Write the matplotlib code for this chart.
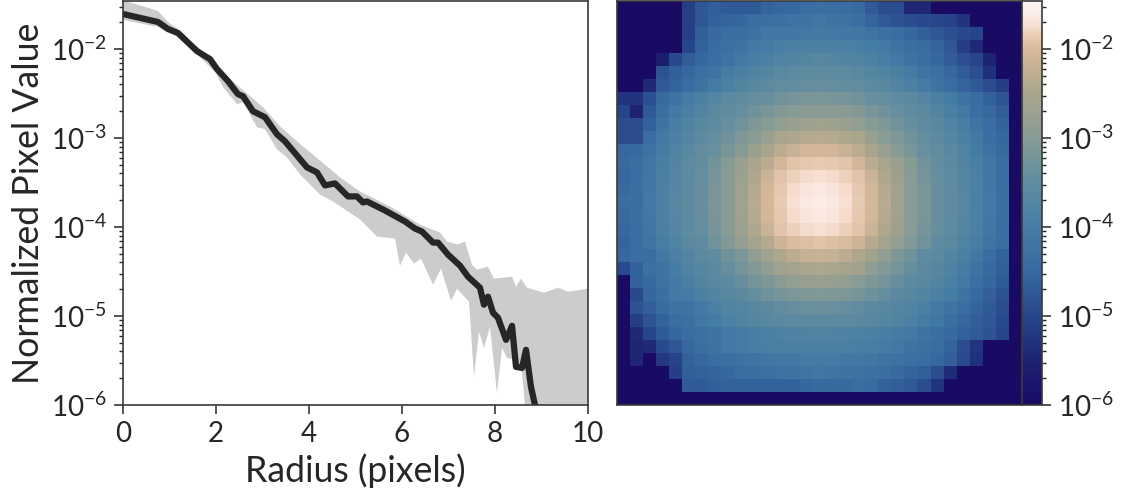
import numpy as np
import matplotlib
matplotlib.use('Agg')
import matplotlib.pyplot as plt
from matplotlib.colors import LinearSegmentedColormap, LogNorm
from matplotlib.ticker import LogLocator, NullFormatter

plt.rcParams['font.family'] = ['Lato', 'DejaVu Sans']
plt.rcParams['mathtext.default'] = 'regular'
plt.rcParams['text.color'] = '#262626'
plt.rcParams['axes.labelcolor'] = '#262626'
plt.rcParams['xtick.color'] = '#262626'
plt.rcParams['ytick.color'] = '#262626'

# mean radial profile, log10 of normalized pixel value
radius = [0, 0.753, 0.968, 1.183, 1.591, 1.871, 2.022, 2.258, 2.473, 2.581, 2.796, 3.054, 3.312, 3.484,
          3.957, 4.172, 4.344, 4.559, 4.839, 5.032, 5.161, 5.247, 5.634, 6.065, 6.28, 6.43, 6.667, 6.774,
          6.989, 7.247, 7.419, 7.677, 7.763, 7.849, 7.957, 8.065, 8.237, 8.366, 8.452, 8.581, 8.667,
          8.774, 8.86, 8.95]
profile = [-1.606, -1.696, -1.775, -1.82, -2.023, -2.113, -2.225, -2.361, -2.507, -2.53, -2.699, -2.766,
           -2.958, -3.037, -3.33, -3.386, -3.532, -3.51, -3.656, -3.656, -3.724, -3.713, -3.814, -3.938,
           -4.017, -4.051, -4.175, -4.175, -4.31, -4.434, -4.558, -4.682, -4.873, -4.783, -4.963, -5.02,
           -5.268, -5.11, -5.572, -5.583, -5.38, -5.797, -6.0, -6.4]

# upper and lower edge of the grey band
radius_up = [0, 0.753, 0.968, 1.183, 1.591, 1.914, 2.258, 2.559, 3.011, 3.376, 3.742, 4.387, 4.667, 5.097,
             5.312, 5.742, 6.387, 6.817, 6.968, 7.204, 7.355, 7.505, 7.613, 7.849, 7.978, 8.366, 8.452,
             8.559, 8.688, 9.054, 9.355, 9.57, 10]
band_up = [-1.45, -1.572, -1.696, -1.775, -1.977, -2.113, -2.315, -2.451, -2.654, -2.868, -3.037, -3.318,
           -3.442, -3.6, -3.656, -3.769, -3.972, -4.062, -4.163, -4.197, -4.163, -4.423, -4.479, -4.445,
           -4.58, -4.558, -4.67, -4.58, -4.682, -4.738, -4.682, -4.727, -4.693]
radius_lo = [0, 0.753, 0.968, 1.183, 1.591, 1.978, 2.151, 2.452, 2.581, 2.882, 3.054, 3.312, 3.527, 3.806,
             4.237, 4.516, 5.097, 5.462, 5.849, 5.957, 6.086, 6.258, 6.409, 6.667, 6.839, 7.054, 7.183,
             7.441, 7.548, 7.656, 7.763, 7.892, 8.043, 8.151, 8.258, 8.43, 8.581, 8.645, 8.65, 10]
band_lo = [-1.673, -1.752, -1.808, -1.865, -2.056, -2.259, -2.428, -2.62, -2.597, -2.879, -2.901, -3.127,
           -3.217, -3.408, -3.634, -3.713, -3.915, -4.107, -4.13, -4.434, -4.287, -4.411, -4.355, -4.648,
           -4.468, -4.828, -4.693, -4.839, -5.685, -5.177, -5.358, -5.121, -5.865, -5.358, -5.47, -5.493,
           -5.639, -6.0, -7.0, -7.0]

# stacked PSF image, -log10(value) * 100, row 0 at the top
psf_rows = [
    [600,600,600,600,600,510,475,465,470,470,470,455,452,450,440,435,440,440,445,470,490,490,545,545,600,600,600,600,600,600,600],
    [600,600,600,600,600,510,475,460,455,450,440,436,430,425,420,415,420,425,435,455,470,480,490,495,500,505,525,600,600,600,600],
    [600,600,600,600,600,510,465,448,440,432,425,415,413,411,410,405,410,411,415,420,430,440,452,465,475,485,495,500,600,600,600],
    [600,600,600,600,600,500,460,442,430,420,410,400,392,389,386,385,386,389,392,400,410,420,432,442,455,475,510,540,600,600,600],
    [600,600,600,560,495,468,452,438,425,410,396,387,378,372,368,365,368,372,378,387,396,410,425,438,452,468,485,500,550,600,600],
    [600,600,600,480,465,452,436,420,402,389,378,368,361,355,353,350,353,355,361,368,378,389,402,420,436,452,468,488,530,600,600],
    [600,600,540,470,455,438,420,400,385,372,361,354,348,345,342,340,342,345,348,354,361,372,385,400,420,438,455,470,490,510,600],
    [525,525,485,445,425,402,385,370,358,350,344,338,328,320,317,315,317,320,328,338,344,350,358,370,385,402,425,442,460,478,600],
    [500,550,470,432,410,389,372,358,349,342,330,317,307,298,296,295,296,298,307,317,330,342,349,358,372,389,410,432,448,468,600],
    [490,490,460,420,396,378,361,350,342,328,310,299,285,272,265,262,265,272,285,299,310,328,342,350,361,378,396,420,440,458,600],
    [490,490,440,410,387,368,354,344,330,310,297,275,252,244,238,236,238,244,252,275,297,310,330,344,354,368,387,410,432,450,600],
    [450,445,425,400,378,361,348,338,317,299,275,252,232,218,208,205,208,218,232,252,275,299,317,338,348,361,378,400,425,445,600],
    [445,440,415,392,372,355,345,325,300,275,252,232,204,192,188,186,188,192,204,232,252,275,300,325,345,355,372,392,415,440,600],
    [450,438,413,389,368,353,342,320,298,270,244,215,192,182,176,172,176,182,192,215,244,270,298,320,342,353,368,389,413,438,600],
    [445,436,411,386,366,351,340,317,296,264,238,205,188,176,166,163,166,176,188,205,238,264,296,317,340,351,366,386,411,436,600],
    [440,435,410,385,365,350,340,315,295,262,236,202,186,172,163,160,163,172,186,202,236,262,295,315,340,350,365,385,410,435,600],
    [445,436,411,386,366,351,340,317,296,264,238,205,188,176,166,163,166,176,188,205,238,264,296,317,340,351,366,386,411,436,600],
    [450,438,413,389,368,353,342,320,298,270,244,215,192,182,176,172,176,182,192,215,244,270,298,320,342,353,368,389,413,438,600],
    [455,440,418,396,378,360,350,330,306,281,258,238,210,198,194,192,194,198,210,238,258,281,306,330,350,360,378,396,418,440,600],
    [450,440,437,412,390,373,360,350,329,311,287,264,244,230,220,217,220,230,244,264,287,311,329,350,360,373,390,412,437,457,600],
    [495,460,430,422,399,380,366,356,342,322,309,287,264,256,250,248,250,256,264,287,309,322,342,356,366,380,399,422,444,462,600],
    [600,460,445,420,408,390,373,362,354,340,322,311,297,284,277,274,277,284,297,311,322,340,354,362,373,390,408,432,452,470,600],
    [600,495,450,432,410,403,386,372,363,356,344,331,321,312,310,309,310,312,321,331,344,356,363,372,386,403,424,446,462,482,600],
    [600,480,465,442,425,422,405,390,378,370,364,358,348,340,337,335,337,340,348,358,364,370,378,390,405,422,440,455,470,490,600],
    [600,510,480,460,440,430,415,400,387,376,369,363,360,357,355,355,355,357,360,363,369,376,387,400,415,435,450,465,475,495,600],
    [600,540,500,470,450,440,430,420,408,400,396,389,383,381,379,378,379,381,383,389,396,400,408,420,435,445,460,470,480,500,600],
    [600,545,540,495,475,450,435,420,410,400,395,392,390,390,390,390,390,390,392,395,400,410,422,430,437,455,490,525,600,600,600],
    [600,545,600,520,505,460,450,440,432,425,420,415,410,408,406,405,406,408,410,415,420,425,432,440,450,465,495,530,600,600,600],
    [600,600,600,600,510,465,460,455,450,440,435,430,425,422,418,415,418,420,425,430,435,445,455,465,490,535,600,600,600,600,600],
    [600,600,600,600,600,470,470,465,460,460,460,460,460,460,450,445,445,445,440,445,460,465,470,490,525,600,600,600,600,600,600],
    [600,600,600,600,600,600,600,600,600,600,600,600,600,600,600,600,600,600,600,600,600,600,600,600,600,600,600,600,600,600,600],
]

# colormap: log10 level and colour
cmap_levels = [-6.0, -5.5, -5.0, -4.5, -4.0, -3.5, -3.0, -2.5, -2.0, -1.85, -1.72, -1.6, -1.46]
cmap_colors = ['#190a64', '#1e2373', '#28468c', '#3769a0', '#467da5', '#5f8ca0', '#879b96', '#aaa58c',
               '#d7b99b', '#e8cbb3', '#f7dfd2', '#fbece5', '#fff5f5']

ymin = 1e-6
ymax = 10**-1.46

fig = plt.figure(figsize=(11.27, 4.92), dpi=100)
W, H = 1127.0, 492.0


def px_axes(x0, x1, y0, y1):
    return fig.add_axes([x0/W, 1 - y1/H, (x1 - x0)/W, (y1 - y0)/H])


# left panel
ax = px_axes(123, 588, 1, 405)
x_band = np.concatenate((radius_up, radius_lo[::-1]))
y_band = np.concatenate((band_up, band_lo[::-1]))
ax.fill(x_band, 10.0**y_band, color='#cccccc', lw=0)
ax.plot(radius, 10.0**np.array(profile), color='#262626', lw=4.5, solid_joinstyle='round')
ax.set_yscale('log')
ax.set_xlim(0, 10)
ax.set_ylim(ymin, ymax)
ax.set_xticks([0, 2, 4, 6, 8, 10])
ax.set_xlabel('Radius (pixels)', fontsize=25.7, labelpad=4.5)
ax.set_ylabel('Normalized Pixel Value', fontsize=25.7, labelpad=4)
ax.yaxis.set_major_locator(LogLocator(base=10, numticks=10))
ax.yaxis.set_minor_locator(LogLocator(base=10, subs=np.arange(2, 10), numticks=20))
ax.yaxis.set_minor_formatter(NullFormatter())
ax.tick_params(which='major', length=6.5, width=1.1, labelsize=20, pad=5)
ax.tick_params(which='minor', length=3.2, width=1.0)
for s in ax.spines.values():
    s.set_color('#3a3a3a')
    s.set_linewidth(1.2)

# right panel
psf = 10.0**(-np.array(psf_rows)/100.0)
positions = (np.array(cmap_levels) - cmap_levels[0])/(cmap_levels[-1] - cmap_levels[0])
cmap = LinearSegmentedColormap.from_list('psf', list(zip(positions, cmap_colors)))

ax2 = px_axes(617, 1022, 1, 405)
im = ax2.imshow(psf, cmap=cmap, norm=LogNorm(vmin=ymin, vmax=ymax), aspect='auto', interpolation='nearest')
ax2.set_xticks([])
ax2.set_yticks([])
for s in ax2.spines.values():
    s.set_color('#3a3a3a')
    s.set_linewidth(1.2)

cax = px_axes(1022, 1042, 1, 405)
cb = fig.colorbar(im, cax=cax)
cb.ax.yaxis.set_major_locator(LogLocator(base=10, numticks=10))
cb.ax.yaxis.set_minor_locator(LogLocator(base=10, subs=np.arange(2, 10), numticks=20))
cb.ax.yaxis.set_minor_formatter(NullFormatter())
cb.ax.tick_params(which='major', length=6.5, width=1.1, labelsize=20, pad=5)
cb.ax.tick_params(which='minor', length=3.2, width=1.0)
cb.outline.set_edgecolor('#3a3a3a')
cb.outline.set_linewidth(1.2)

fig.savefig('out.png', dpi=100)
